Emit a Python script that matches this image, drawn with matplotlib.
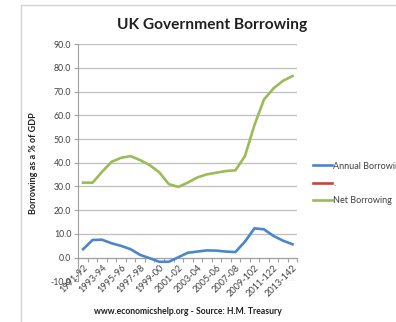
import matplotlib
matplotlib.use("Agg")
import matplotlib.pyplot as plt
from matplotlib.lines import Line2D

# UK government borrowing as a share of GDP, fiscal years 1991-92 to 2013-14
years = ["1991-92", "1992-93", "1993-94", "1994-95", "1995-96", "1996-97",
         "1997-98", "1998-99", "1999-00", "2000-01", "2001-02", "2002-03",
         "2003-04", "2004-05", "2005-06", "2006-07", "2007-08", "2008-09",
         "2009-102", "2010-11", "2011-122", "2012-13", "2013-142"]
annual_borrowing = [3.5, 7.4, 7.5, 6.0, 4.9, 3.5, 1.1, -0.3, -1.8, -1.8,
                    0.1, 2.0, 2.5, 3.0, 2.9, 2.5, 2.3, 6.7, 12.3, 11.9,
                    9.1, 7.1, 5.6]
net_borrowing = [31.6, 31.6, 36.2, 40.4, 42.1, 42.8, 41.1, 39.0, 36.0, 31.0,
                 29.8, 31.6, 33.8, 35.1, 35.8, 36.5, 36.8, 42.8, 55.9, 66.7,
                 71.4, 74.6, 76.6]

BLUE = "#4a86c8"
RED = "#d0403a"
GREEN = "#9bbb59"
GRID = "#bfbfbf"
TEXT = "#404040"

plt.rcParams["font.family"] = ["Lato", "DejaVu Sans"]

W, H = 396, 322
fig = plt.figure(figsize=(W / 100, H / 100), dpi=100)
fig.patch.set_facecolor("white")

# chart frame (top and left edges)
fig.add_artist(Line2D([21 / W, 1.0], [1 - 5 / H, 1 - 5 / H], color="#d4d4d4", lw=1.0,
                      transform=fig.transFigure))
fig.add_artist(Line2D([21 / W, 21 / W], [1 - 5 / H, 0.0], color="#d4d4d4", lw=1.0,
                      transform=fig.transFigure))

left, right, top, bottom = 78.3, 297.3, 44.3, 281.2
ax = fig.add_axes([left / W, 1 - bottom / H, (right - left) / W, (bottom - top) / H])

x = list(range(len(years)))
ax.plot(x, annual_borrowing, color=BLUE, lw=1.9, label="Annual Borrowing", zorder=3)
ax.plot([], [], color=RED, lw=1.9, label=".")
ax.plot(x, net_borrowing, color=GREEN, lw=1.9, label="Net Borrowing", zorder=3)

ax.set_xlim(-0.5, len(years) - 0.5)
ax.set_ylim(-10, 90)
ax.set_yticks(range(-10, 91, 10))
ax.set_yticklabels([f"{v:.1f}" for v in range(-10, 91, 10)], fontsize=6.3, color=TEXT)
ax.yaxis.grid(True, color=GRID, lw=0.9)
ax.set_axisbelow(True)
ax.tick_params(axis="y", length=3, width=0.8, color="#a0a0a0", pad=2)

# category axis crossing at zero, ticks between categories
ax.spines["bottom"].set_position(("data", 0))
ax.spines["bottom"].set_color("#a0a0a0")
ax.spines["left"].set_color("#a0a0a0")
ax.spines["top"].set_visible(False)
ax.spines["right"].set_visible(False)
ax.set_xticks([i - 0.5 for i in range(len(years) + 1)], minor=True)
ax.set_xticks(x[::2])
ax.set_xticklabels(years[::2], rotation=45, ha="right", va="top",
                   rotation_mode="anchor", fontsize=6.6, color=TEXT)
ax.tick_params(axis="x", which="major", length=0, pad=4)
ax.tick_params(axis="x", which="minor", length=3, width=0.8, color="#a0a0a0")

ax.set_ylabel("Borrowing as a % of GDP", fontsize=6.5, fontweight="bold", color="#202020")
ax.yaxis.set_label_coords(-0.184, 0.5)

fig.text(212 / W, 1 - 25 / H, "UK Government Borrowing", ha="center", va="center",
         fontsize=11.2, fontweight="bold", color="#202020")
fig.text(188 / W, 1 - 312 / H, "www.economicshelp.org - Source: H.M. Treasury",
         ha="center", va="center", fontsize=6.2, fontweight="bold", color="#202020")

leg = fig.legend(loc="upper left", bbox_to_anchor=(309 / W, 1 - 158 / H),
                 frameon=False, fontsize=6.5, handlelength=2.1, handletextpad=0.2,
                 labelspacing=0.9, borderaxespad=0)
for t in leg.get_texts():
    t.set_color(TEXT)

fig.savefig("out.png", dpi=100)
